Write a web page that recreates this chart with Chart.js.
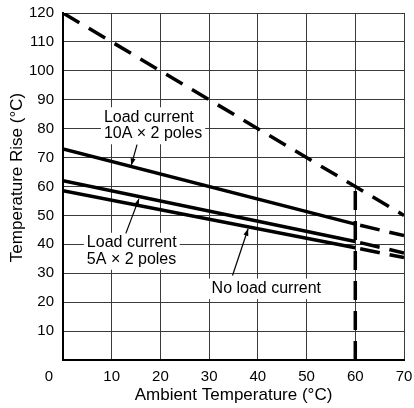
<!DOCTYPE html>
<html>
<head>
<meta charset="utf-8">
<script src="https://cdn.jsdelivr.net/npm/chart.js@4"></script>
<style>
  html, body { margin: 0; padding: 0; background: #fff; }
  #wrap { width: 414px; height: 408px; position: relative; }
</style>
</head>
<body>
<div id="wrap"><canvas id="c" width="414" height="408"></canvas></div>
<script>
// ---- data ----
const ambientTemps = [0, 60, 70];
const load10A = [73, 47, 43];
const load5A = [62, 41, 37];
const noLoad = [58.5, 38.8, 35.4];
const limitTemps = [0, 60, 70];
const limitRise = [120, 60, 50];
const cutoffTemps = [60, 60];
const cutoffRise = [0, 60];
const xTicks = [0, 10, 20, 30, 40, 50, 60, 70];
const yTicks = [10, 20, 30, 40, 50, 60, 70, 80, 90, 100, 110, 120];
const xTitle = 'Ambient Temperature (°C)';
const yTitle = 'Temperature Rise (°C)';
const labels10A = ['Load current', '10A × 2 poles'];
const labels5A = ['Load current', '5A × 2 poles'];
const labelsNoLoad = ['No load current'];

const pts = (xs, ys) => xs.map((x, i) => ({ x: x, y: ys[i] }));
const FONT = '"Liberation Sans", Arial, Helvetica, sans-serif';

const extDash = {
  borderDash: ctx => ctx.p0.parsed.x >= 60 ? [20, 10] : undefined,
  borderDashOffset: ctx => ctx.p0.parsed.x >= 60 ? 25 : 0
};

function lineDs(data, dash) {
  return {
    data: data,
    borderColor: '#000',
    borderWidth: 3.5,
    pointRadius: 0,
    fill: false,
    tension: 0,
    borderCapStyle: 'butt',
    borderDash: dash || [],
    segment: dash ? undefined : extDash
  };
}

const annotationPlugin = {
  id: 'annotations',
  afterDatasetsDraw(chart) {
    const ctx = chart.ctx;
    const xs = chart.scales.x, ys = chart.scales.y;
    const X = v => xs.getPixelForValue(v), Y = v => ys.getPixelForValue(v);
    ctx.save();
    ctx.font = '16px ' + FONT;
    ctx.textAlign = 'left';
    ctx.textBaseline = 'middle';
    function block(lines, lx, cy, lh) {
      const w = Math.max(...lines.map(l => ctx.measureText(l).width));
      const h = lh * lines.length;
      ctx.fillStyle = '#fff';
      ctx.fillRect(lx - 3, cy - h / 2 - 2, w + 6, h + 4);
      ctx.fillStyle = '#000';
      lines.forEach((l, i) => ctx.fillText(l, lx, cy - h / 2 + lh * (i + 0.5)));
    }
    function arrow(x0, y0, x1, y1) {
      const a = X(x0), b = Y(y0), c = X(x1), d = Y(y1);
      ctx.strokeStyle = '#000';
      ctx.lineWidth = 1.2;
      ctx.beginPath(); ctx.moveTo(a, b); ctx.lineTo(c, d); ctx.stroke();
      const ang = Math.atan2(d - b, c - a);
      const L = 7, W = 2.5;
      ctx.beginPath();
      ctx.moveTo(c, d);
      ctx.lineTo(c - L * Math.cos(ang) + W * Math.sin(ang), d - L * Math.sin(ang) - W * Math.cos(ang));
      ctx.lineTo(c - L * Math.cos(ang) - W * Math.sin(ang), d - L * Math.sin(ang) + W * Math.cos(ang));
      ctx.closePath();
      ctx.fillStyle = '#000';
      ctx.fill();
    }
    block(labels10A, X(8.4), Y(81), 16.5);
    arrow(15.2, 74.5, 14.0, 67.3);
    block(labels5A, X(4.9), Y(37.6), 16.5);
    arrow(12.9, 43.8, 15.6, 55.8);
    block(labelsNoLoad, X(30.5), Y(24.6), 16.5);
    arrow(34.8, 29.2, 38.0, 45.4);
    ctx.restore();
  },
  afterDraw(chart) {
    const ctx = chart.ctx;
    const xs = chart.scales.x, ys = chart.scales.y;
    ctx.save();
    ctx.fillStyle = '#000';
    // origin label shared by both axes
    ctx.font = '15px ' + FONT;
    ctx.textAlign = 'center';
    ctx.textBaseline = 'middle';
    ctx.fillText(String(xTicks[0]), xs.getPixelForValue(0) - 14, ys.bottom + 17);
    // y axis title
    ctx.font = '17px ' + FONT;
    ctx.translate(17, (ys.top + ys.bottom) / 2 - 9);
    ctx.rotate(-Math.PI / 2);
    ctx.fillText(yTitle, 0, 0);
    ctx.restore();
  }
};

new Chart(document.getElementById('c'), {
  type: 'line',
  data: {
    datasets: [
      lineDs(pts(limitTemps, limitRise), [19, 11]),
      lineDs(pts(cutoffTemps, cutoffRise), [19, 11]),
      lineDs(pts(ambientTemps, load10A)),
      lineDs(pts(ambientTemps, load5A)),
      lineDs(pts(ambientTemps, noLoad))
    ]
  },
  options: {
    responsive: false,
    animation: false,
    events: [],
    layout: { padding: { top: 13, right: 10, left: 0, bottom: 0 } },
    plugins: { legend: { display: false }, tooltip: { enabled: false } },
    scales: {
      x: {
        type: 'linear',
        min: 0, max: 70,
        afterFit(s) { s.height = 48; s.paddingLeft = 0; s.paddingRight = 0; },
        afterBuildTicks(s) { s.ticks = xTicks.map(v => ({ value: v })); },
        ticks: {
          color: '#000',
          font: { family: FONT, size: 15 },
          padding: 8,
          maxRotation: 0,
          callback: v => (v === 0 ? '' : String(v))
        },
        grid: { color: '#3a3a3a', lineWidth: 1, drawTicks: false },
        border: { color: '#000', width: 2 },
        title: {
          display: true,
          text: xTitle,
          color: '#000',
          font: { family: FONT, size: 17 },
          padding: { top: 0, bottom: 2 }
        }
      },
      y: {
        type: 'linear',
        min: 0, max: 120,
        afterFit(s) { s.width = 63; s.paddingTop = 0; s.paddingBottom = 0; },
        afterBuildTicks(s) { s.ticks = [0].concat(yTicks).map(v => ({ value: v })); },
        ticks: {
          color: '#000',
          font: { family: FONT, size: 15 },
          padding: 9,
          callback: v => (v === 0 ? '' : String(v))
        },
        grid: { color: '#3a3a3a', lineWidth: 1, drawTicks: false },
        border: { color: '#000', width: 2 }
      }
    }
  },
  plugins: [annotationPlugin]
});
</script>
</body>
</html>
